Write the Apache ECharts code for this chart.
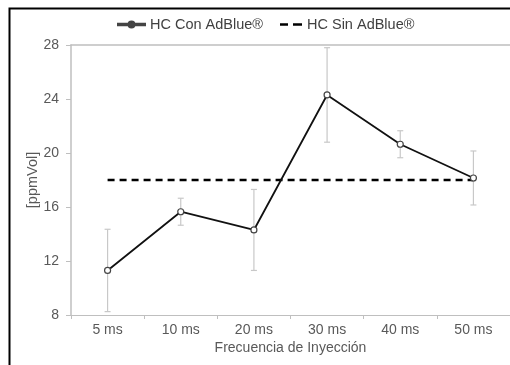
<!DOCTYPE html>
<html>
<head>
<meta charset="utf-8">
<script src="https://cdn.jsdelivr.net/npm/echarts@6/dist/echarts.min.js"></script>
<style>
  html, body { margin: 0; padding: 0; background: #fff; }
  #chart { width: 510px; height: 365px; }
</style>
</head>
<body>
<div id="chart"></div>
<script>
// Injection frequency categories
const categories = ['5 ms', '10 ms', '20 ms', '30 ms', '40 ms', '50 ms'];
// HC with AdBlue: mean concentration and half-width of the error bars
const hcConMean = [11.3, 15.65, 14.3, 24.3, 20.65, 18.15];
const hcConErr = [3.05, 1.0, 3.0, 3.5, 1.0, 2.0];
// HC without AdBlue: constant reference level
const hcSin = [18, 18, 18, 18, 18, 18];
// Y-axis ticks
const yMin = 8, yMax = 28, yStep = 4;

const errData = categories.map((c, i) => [i, hcConMean[i] - hcConErr[i], hcConMean[i] + hcConErr[i]]);

const textColor = '#595959';
const axisColor = '#bfbfbf';
const font = 'Liberation Sans';

// legend icons: solid line with marker, and a two-dash line
const iconSolid = 'path://M0,2.3 L27,2.3 L27,3.7 L0,3.7 Z M16.5,3 A3,3 0 1,1 10.5,3 A3,3 0 1,1 16.5,3 Z';
const iconDashed = 'path://M0,0 L8,0 L8,2.5 L0,2.5 Z M13,0 L22,0 L22,2.5 L13,2.5 Z';

const legendText = { color: '#404040', fontSize: 14.5, fontFamily: font };

const chart = echarts.init(document.getElementById('chart'));
chart.setOption({
  animation: false,
  textStyle: { fontFamily: font },
  graphic: [{
    type: 'rect',
    shape: { x: 9.5, y: 8.5, width: 700, height: 500 },
    style: { fill: 'none', stroke: '#000', lineWidth: 2 },
    silent: true
  }],
  legend: [{
    top: 17,
    left: 117,
    padding: 0,
    itemWidth: 27,
    itemHeight: 6,
    textStyle: legendText,
    data: [{ name: 'HC Con AdBlue®', icon: iconSolid, itemStyle: { color: '#222' } }]
  }, {
    top: 17,
    left: 280,
    padding: 0,
    itemWidth: 22,
    itemHeight: 2.5,
    textStyle: legendText,
    data: [{ name: 'HC Sin AdBlue®', icon: iconDashed, itemStyle: { color: '#000' } }]
  }],
  grid: { left: 71, top: 45, width: 440, height: 270 },
  xAxis: [{
    type: 'category',
    data: categories,
    boundaryGap: true,
    name: 'Frecuencia de Inyección',
    nameLocation: 'middle',
    nameGap: 26,
    nameMoveOverlap: false,
    nameTextStyle: { color: textColor, fontSize: 14, fontFamily: font },
    axisLine: { lineStyle: { color: axisColor, width: 1 } },
    axisTick: { show: true, length: 4, lineStyle: { color: axisColor } },
    axisLabel: { color: textColor, fontSize: 14, margin: 8 },
    splitLine: { show: false }
  }, {
    type: 'category',
    data: categories,
    position: 'top',
    axisLine: { lineStyle: { color: axisColor, width: 1.5 } },
    axisTick: { show: false },
    axisLabel: { show: false }
  }],
  yAxis: {
    type: 'value',
    min: yMin,
    max: yMax,
    interval: yStep,
    name: '[ppmVol]',
    nameLocation: 'middle',
    nameGap: 31,
    nameMoveOverlap: false,
    nameRotate: 90,
    nameTextStyle: { color: textColor, fontSize: 14.5, fontFamily: font },
    axisLine: { show: true, lineStyle: { color: axisColor, width: 1.5 } },
    axisTick: { show: true, length: 5, lineStyle: { color: axisColor } },
    axisLabel: { color: textColor, fontSize: 14, margin: 12 },
    splitLine: { show: false }
  },
  series: [{
    name: 'HC Sin AdBlue®',
    type: 'line',
    data: hcSin,
    symbol: 'none',
    lineStyle: { color: '#000', width: 2.5, type: [7, 5] },
    itemStyle: { color: '#000' },
    z: 2
  }, {
    name: 'errorbars',
    type: 'custom',
    data: errData,
    renderItem: function (params, api) {
      const x = api.value(0);
      const lo = api.coord([x, api.value(1)]);
      const hi = api.coord([x, api.value(2)]);
      const cap = 3;
      const style = { stroke: '#c8c8c8', lineWidth: 1.2 };
      return {
        type: 'group',
        children: [
          { type: 'line', shape: { x1: hi[0], y1: hi[1], x2: lo[0], y2: lo[1] }, style: style },
          { type: 'line', shape: { x1: hi[0] - cap, y1: hi[1], x2: hi[0] + cap, y2: hi[1] }, style: style },
          { type: 'line', shape: { x1: lo[0] - cap, y1: lo[1], x2: lo[0] + cap, y2: lo[1] }, style: style }
        ]
      };
    },
    z: 1
  }, {
    name: 'HC Con AdBlue®',
    type: 'line',
    data: hcConMean,
    symbol: 'circle',
    symbolSize: 6,
    lineStyle: { color: '#111', width: 1.8 },
    itemStyle: { color: '#fff', borderColor: '#444', borderWidth: 1.2 },
    z: 3
  }]
});
</script>
</body>
</html>
